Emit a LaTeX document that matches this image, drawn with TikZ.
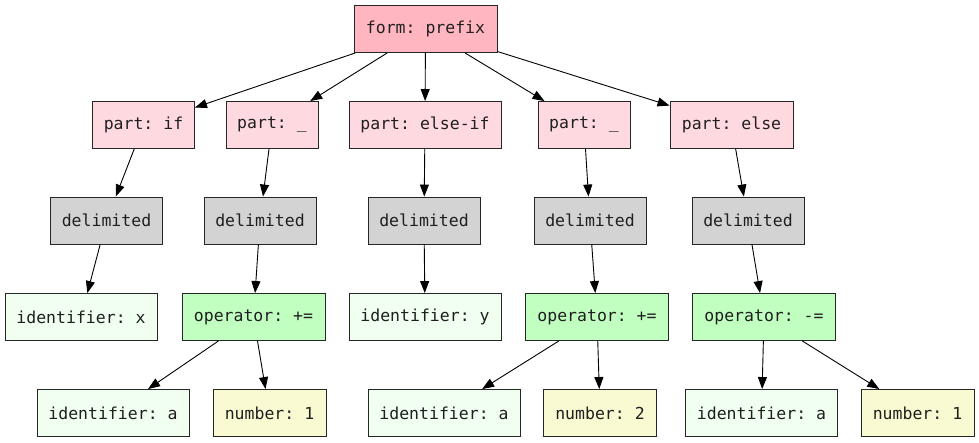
\documentclass[tikz,border=0pt]{standalone}
\usepackage{fontspec}
\setmonofont{DejaVu Sans Mono}
\usetikzlibrary{arrows.meta}
\definecolor{formpink}{HTML}{FFB6C1}
\definecolor{partpink}{HTML}{FFD9E0}
\definecolor{delimgray}{HTML}{D3D3D3}
\definecolor{opgreen}{HTML}{C1FFC1}
\definecolor{idgreen}{HTML}{F0FFF0}
\definecolor{numyellow}{HTML}{FAFAD2}
\begin{document}
\begin{tikzpicture}[x=1pt,y=-1pt,
  box/.style={draw=black!85, line width=0.9pt, minimum height=47pt, inner sep=0pt,
    font=\ttfamily\fontsize{16.5}{19}\selectfont, text=black!88},
  formbox/.style={box, fill=formpink, minimum width=143pt},
  partbox/.style={box, fill=partpink},
  delimbox/.style={box, fill=delimgray, minimum width=112pt},
  opbox/.style={box, fill=opgreen, minimum width=143pt},
  idbox/.style={box, fill=idgreen, minimum width=152pt},
  numbox/.style={box, fill=numyellow, minimum width=113pt},
  edge/.style={-{Triangle[length=12pt,width=9pt]}, line width=0.9pt, black}]
\useasboundingbox (0,0) rectangle (979,443);
% row 0
\node[formbox] (form) at (425.5,29) {form: prefix};
% row 1
\node[partbox, minimum width=102pt] (p1) at (143.5,125) {part: if};
\node[partbox, minimum width=92pt] (p2) at (272,125) {part: \_};
\node[partbox, minimum width=152pt] (p3) at (425,125) {part: else-if};
\node[partbox, minimum width=92pt] (p4) at (584,125) {part: \_};
\node[partbox, minimum width=123pt] (p5) at (731.5,125) {part: else};
% row 2
\node[delimbox] (d1) at (106.5,220.5) {delimited};
\node[delimbox] (d2) at (260,220.5) {delimited};
\node[delimbox] (d3) at (424,220.5) {delimited};
\node[delimbox] (d4) at (590,220.5) {delimited};
\node[delimbox] (d5) at (748,220.5) {delimited};
% row 3
\node[idbox] (ix) at (81,317) {identifier: x};
\node[opbox] (o1) at (253.5,317) {operator: +=};
\node[idbox] (iy) at (425,317) {identifier: y};
\node[opbox] (o2) at (597,317) {operator: +=};
\node[opbox] (o3) at (764,317) {operator: -=};
% row 4
\node[idbox] (a1) at (113,413) {identifier: a};
\node[numbox] (n1) at (269.5,413) {number: 1};
\node[idbox] (a2) at (444,413) {identifier: a};
\node[numbox] (n2) at (600,413) {number: 2};
\node[idbox] (a3) at (761.5,413) {identifier: a};
\node[numbox] (n3) at (917.5,413) {number: 1};
% edges
\foreach \p in {p1,p2,p3,p4,p5} \draw[edge] (form) -- (\p);
\draw[edge] (p1) -- (d1);
\draw[edge] (p2) -- (d2);
\draw[edge] (p3) -- (d3);
\draw[edge] (p4) -- (d4);
\draw[edge] (p5) -- (d5);
\draw[edge] (d1) -- (ix);
\draw[edge] (d2) -- (o1);
\draw[edge] (d3) -- (iy);
\draw[edge] (d4) -- (o2);
\draw[edge] (d5) -- (o3);
\draw[edge] (o1) -- (a1);
\draw[edge] (o1) -- (n1);
\draw[edge] (o2) -- (a2);
\draw[edge] (o2) -- (n2);
\draw[edge] (o3) -- (a3);
\draw[edge] (o3) -- (n3);
\end{tikzpicture}
\end{document}
